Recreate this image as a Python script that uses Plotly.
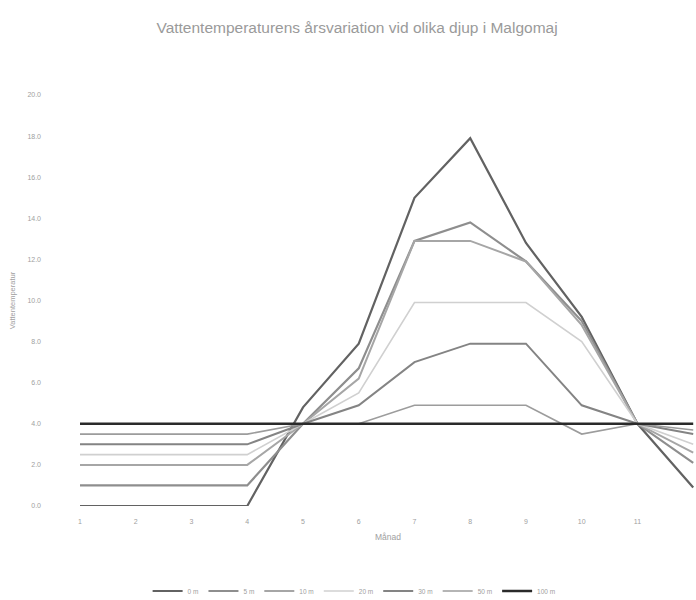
import plotly.graph_objects as go

# Monthly mean water temperature (°C) by depth
months = list(range(1, 13))
month_labels = [str(m) for m in months]

t_0m = [0.0, 0.0, 0.0, 0.0, 4.8, 7.9, 15.0, 17.9, 12.8, 9.2, 4.0, 0.9]
t_5m = [1.0, 1.0, 1.0, 1.0, 4.0, 6.7, 12.9, 13.8, 11.9, 9.0, 4.0, 2.1]
t_10m = [2.0, 2.0, 2.0, 2.0, 4.0, 6.2, 12.9, 12.9, 11.9, 8.8, 4.0, 2.6]
t_20m = [2.5, 2.5, 2.5, 2.5, 4.0, 5.5, 9.9, 9.9, 9.9, 8.0, 4.0, 3.0]
t_30m = [3.0, 3.0, 3.0, 3.0, 4.0, 4.9, 7.0, 7.9, 7.9, 4.9, 4.0, 3.5]
t_50m = [3.5, 3.5, 3.5, 3.5, 4.0, 4.0, 4.9, 4.9, 4.9, 3.5, 4.0, 3.7]
t_100m = [4.0] * 12

depth_names = ["0 m", "5 m", "10 m", "20 m", "30 m", "50 m", "100 m"]
series = [t_0m, t_5m, t_10m, t_20m, t_30m, t_50m, t_100m]
colors = ["#626262", "#8e8e8e", "#a6a6a6", "#d0d0d0", "#848484", "#9c9c9c", "#2a2a2a"]
widths = [2.2, 2.2, 2.0, 1.6, 2.0, 1.6, 2.6]

y_ticks = [0, 2, 4, 6, 8, 10, 12, 14, 16, 18, 20]

fig = go.Figure()
for name, vals, col, w in zip(depth_names, series, colors, widths):
    fig.add_trace(go.Scatter(
        x=months, y=vals, mode="lines", name=name,
        line=dict(color=col, width=w),
    ))

font_family = "Liberation Sans, Arial, sans-serif"
label_color = "#a0a0a0"

fig.update_layout(
    width=696, height=600,
    margin=dict(l=80, r=0, t=95, b=94, autoexpand=False),
    paper_bgcolor="white", plot_bgcolor="white",
    font=dict(family=font_family, color=label_color, size=7),
    title=dict(
        text="Vattentemperaturens årsvariation vid olika djup i Malgomaj",
        x=0.513, xanchor="center", y=1 - 28 / 600, yanchor="middle",
        yref="container",
        font=dict(size=15.5, color="#9a9a9a", family=font_family),
    ),
    xaxis=dict(
        range=[1, 12.05], tickvals=months, ticktext=month_labels,
        showgrid=False, zeroline=False, showline=False, ticks="",
        ticklabelstandoff=10, automargin=False,
        tickfont=dict(size=7, color=label_color, family=font_family),
        title=dict(text="Månad", standoff=10,
                   font=dict(size=8.5, color=label_color, family=font_family)),
    ),
    yaxis=dict(
        range=[0, 20], tickvals=y_ticks,
        ticktext=[f"{v:.1f}" for v in y_ticks],
        showgrid=False, zeroline=False, showline=False, ticks="",
        ticklabelstandoff=38, automargin=False,
        tickfont=dict(size=7, color=label_color, family=font_family),
        title=dict(text="Vattentemperatur", standoff=10,
                   font=dict(size=7.5, color=label_color, family=font_family)),
    ),
    legend=dict(
        orientation="h", x=0.445, xanchor="center",
        y=1 - 591 / 600, yanchor="middle", yref="container",
        font=dict(size=6.5, color=label_color, family=font_family),
        itemwidth=30, tracegroupgap=0,
    ),
    showlegend=True,
)

fig.write_html("out.html")
